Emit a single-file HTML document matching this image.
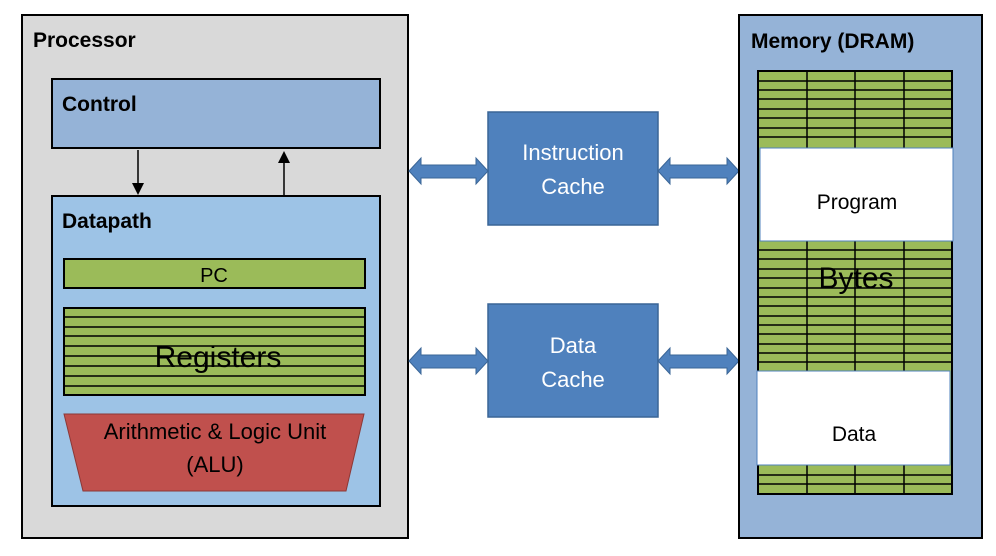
<!DOCTYPE html>
<html><head><style>body{margin:0;background:#fff}svg{display:block}</style></head><body>
<svg width="996" height="556" viewBox="0 0 996 556" xmlns="http://www.w3.org/2000/svg" font-family="Liberation Sans, sans-serif">
<rect width="996" height="556" fill="#fff"/>
<!-- Processor -->
<rect x="22" y="15" width="386" height="523" fill="#d9d9d9" stroke="#000" stroke-width="2"/>
<text x="33" y="47" font-size="21" font-weight="bold">Processor</text>
<rect x="52" y="79" width="328" height="69" fill="#95b3d7" stroke="#000" stroke-width="2"/>
<text x="62" y="111" font-size="21" font-weight="bold">Control</text>
<rect x="52" y="196" width="328" height="310" fill="#9dc3e6" stroke="#000" stroke-width="2"/>
<text x="62" y="228" font-size="21" font-weight="bold">Datapath</text>
<!-- control arrows -->
<line x1="138" y1="150" x2="138" y2="184" stroke="#000" stroke-width="1.5"/>
<polygon points="132,183 144,183 138,195" fill="#000"/>
<line x1="284" y1="195" x2="284" y2="162" stroke="#000" stroke-width="1.5"/>
<polygon points="278,163 290,163 284,151" fill="#000"/>
<!-- PC -->
<rect x="64" y="259" width="301" height="29" fill="#9bbb59" stroke="#000" stroke-width="2"/>
<text x="214" y="282" font-size="20" text-anchor="middle">PC</text>
<!-- Registers -->
<rect x="64" y="308" width="301" height="87" fill="#9bbb59" stroke="#000" stroke-width="2"/>
<g stroke="#000" stroke-width="1.5">
<line x1="64" y1="317" x2="365" y2="317"/><line x1="64" y1="327" x2="365" y2="327"/>
<line x1="64" y1="336" x2="365" y2="336"/><line x1="64" y1="346" x2="365" y2="346"/>
<line x1="64" y1="356" x2="365" y2="356"/><line x1="64" y1="366" x2="365" y2="366"/>
<line x1="64" y1="376" x2="365" y2="376"/><line x1="64" y1="386" x2="365" y2="386"/>
</g>
<text x="218" y="367" font-size="30" text-anchor="middle">Registers</text>
<!-- ALU -->
<polygon points="64,414 364,414 346,491 83,491" fill="#c0504d" stroke="#8c3836" stroke-width="1"/>
<text x="215" y="439" font-size="22" text-anchor="middle">Arithmetic &amp; Logic Unit</text>
<text x="215" y="472" font-size="22" text-anchor="middle">(ALU)</text>
<!-- Caches -->
<rect x="488" y="112" width="170" height="113" fill="#4f81bd" stroke="#3a6596" stroke-width="1.5"/>
<text x="573" y="160" font-size="22" fill="#fff" text-anchor="middle">Instruction</text>
<text x="573" y="194" font-size="22" fill="#fff" text-anchor="middle">Cache</text>
<rect x="488" y="304" width="170" height="113" fill="#4f81bd" stroke="#3a6596" stroke-width="1.5"/>
<text x="573" y="353" font-size="22" fill="#fff" text-anchor="middle">Data</text>
<text x="573" y="387" font-size="22" fill="#fff" text-anchor="middle">Cache</text>
<!-- double arrows -->
<g fill="#4f81bd" stroke="#3a6596" stroke-width="1">
<polygon points="409,171 421,158 421,165 476,165 476,158 488,171 476,184 476,178 421,178 421,184"/>
<polygon points="658,171 670,158 670,165 727,165 727,158 739,171 727,184 727,178 670,178 670,184"/>
<polygon points="409,361 421,348 421,355 476,355 476,348 488,361 476,374 476,368 421,368 421,374"/>
<polygon points="658,361 670,348 670,355 727,355 727,348 739,361 727,374 727,368 670,368 670,374"/>
</g>
<!-- Memory -->
<rect x="739" y="15" width="243" height="523" fill="#95b3d7" stroke="#000" stroke-width="2"/>
<text x="751" y="48" font-size="21" font-weight="bold">Memory (DRAM)</text>
<rect x="758" y="71" width="194" height="423" fill="#9bbb59" stroke="#000" stroke-width="2"/>
<g stroke="#000" stroke-width="1.5">
<line x1="807" y1="71" x2="807" y2="494"/><line x1="855" y1="71" x2="855" y2="494"/><line x1="904" y1="71" x2="904" y2="494"/>
<line x1="758" y1="81" x2="952" y2="81"/><line x1="758" y1="90" x2="952" y2="90"/><line x1="758" y1="99" x2="952" y2="99"/>
<line x1="758" y1="109" x2="952" y2="109"/><line x1="758" y1="118" x2="952" y2="118"/><line x1="758" y1="128" x2="952" y2="128"/>
<line x1="758" y1="137" x2="952" y2="137"/>
<line x1="758" y1="250" x2="952" y2="250"/><line x1="758" y1="259" x2="952" y2="259"/><line x1="758" y1="269" x2="952" y2="269"/>
<line x1="758" y1="278" x2="952" y2="278"/><line x1="758" y1="288" x2="952" y2="288"/><line x1="758" y1="297" x2="952" y2="297"/>
<line x1="758" y1="306" x2="952" y2="306"/><line x1="758" y1="316" x2="952" y2="316"/><line x1="758" y1="325" x2="952" y2="325"/>
<line x1="758" y1="334" x2="952" y2="334"/><line x1="758" y1="344" x2="952" y2="344"/><line x1="758" y1="353" x2="952" y2="353"/>
<line x1="758" y1="362" x2="952" y2="362"/>
<line x1="758" y1="475" x2="952" y2="475"/><line x1="758" y1="484" x2="952" y2="484"/>
</g>
<text x="856" y="288" font-size="30" text-anchor="middle">Bytes</text>
<rect x="760" y="148" width="193" height="93" fill="#fff" stroke="#4f81bd" stroke-width="1"/>
<text x="857" y="209" font-size="21" text-anchor="middle">Program</text>
<rect x="757" y="371" width="193" height="94" fill="#fff" stroke="#4f81bd" stroke-width="1"/>
<text x="854" y="441" font-size="21" text-anchor="middle">Data</text>
</svg>
</body></html>
